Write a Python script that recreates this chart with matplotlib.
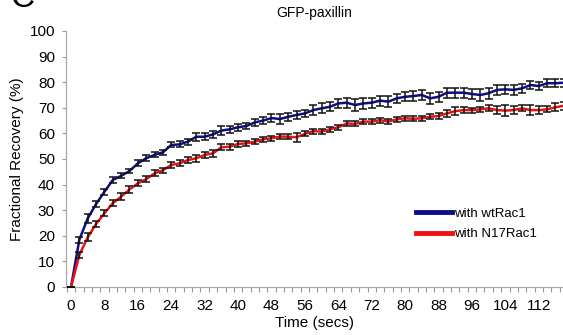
import numpy as np
import matplotlib
matplotlib.use('Agg')
import matplotlib.pyplot as plt

plt.rcParams['font.family'] = ['Liberation Sans', 'DejaVu Sans']

# time points (secs), one every 2 s
time = np.arange(0, 120, 2)

wt_rac1 = [0, 18.5, 26.8, 32.4, 37.2, 41.8, 43.4, 45.3, 48.3, 50.3,
           51.6, 52.6, 55.5, 55.7, 56.8, 58.7, 58.7, 59.6, 61.1, 61.6,
           62.4, 62.9, 64.3, 65.0, 66.0, 65.6, 66.5, 67.2, 67.8, 69.1,
           69.8, 70.4, 71.7, 72.0, 71.1, 71.7, 72.0, 72.8, 72.4, 73.7,
           74.3, 74.6, 75.0, 73.7, 74.3, 75.9, 75.9, 75.9, 75.4, 75.0,
           75.7, 77.0, 77.2, 77.0, 77.6, 78.9, 78.5, 79.6, 79.6, 79.8]
wt_err = [0, 1.2, 1.8, 1.2, 1.2, 1.3, 1.0, 0.8, 1.2, 1.2,
          1.0, 1.0, 1.0, 1.2, 1.2, 1.5, 1.3, 1.3, 1.8, 1.3,
          1.3, 1.3, 1.5, 1.5, 1.5, 1.8, 1.5, 1.5, 1.5, 2.0,
          2.0, 1.8, 1.8, 2.0, 2.2, 2.2, 2.0, 2.0, 2.2, 1.8,
          1.8, 1.8, 2.0, 2.2, 2.0, 2.0, 2.0, 2.0, 2.0, 2.2,
          2.2, 2.0, 1.8, 2.0, 1.8, 1.5, 1.5, 1.5, 1.5, 1.5]

n17_rac1 = [0, 12.5, 19.4, 24.6, 28.8, 32.7, 35.3, 38.1, 40.5, 42.1,
            44.4, 45.6, 47.7, 48.3, 49.6, 50.3, 51.6, 52.2, 54.6, 54.8,
            55.9, 56.1, 56.8, 57.7, 58.1, 58.8, 58.7, 58.5, 59.8, 60.9,
            60.7, 61.6, 62.4, 63.9, 63.7, 64.6, 64.6, 65.2, 64.6, 65.5,
            65.9, 65.7, 65.9, 66.5, 66.8, 67.8, 68.7, 69.1, 69.1, 69.4,
            69.8, 69.1, 68.9, 69.1, 69.8, 69.1, 69.1, 69.4, 70.2, 70.8]
n17_err = [0, 1.2, 1.5, 1.2, 1.2, 1.2, 1.3, 1.3, 1.2, 1.2,
           1.2, 1.0, 1.2, 1.2, 1.2, 1.3, 1.3, 1.5, 1.2, 1.2,
           1.2, 1.0, 1.0, 1.0, 1.0, 1.0, 1.0, 1.8, 1.0, 1.0,
           1.0, 1.0, 1.0, 1.0, 1.0, 1.0, 1.0, 1.0, 1.0, 1.0,
           1.0, 1.0, 1.0, 1.0, 1.2, 1.2, 1.5, 1.2, 1.0, 1.0,
           1.2, 1.5, 2.0, 1.5, 1.2, 1.8, 1.5, 1.2, 1.5, 1.5]

x_labels = np.arange(0, 113, 8)
y_ticks = np.arange(0, 101, 10)

fig = plt.figure(figsize=(5.63, 3.35), dpi=100)
ax = fig.add_axes([66 / 563, 48 / 335, 497 / 563, 256 / 335])

ax.plot(time, wt_rac1, color='#0c0c8c', lw=1.8, label='with wtRac1', zorder=2)
ax.plot(time, n17_rac1, color='#ee1111', lw=1.8, label='with N17Rac1', zorder=2)
ax.errorbar(time, wt_rac1, yerr=wt_err, fmt='none', ecolor='#111111',
            elinewidth=1.1, capsize=3, capthick=1.1, zorder=3)
ax.errorbar(time, n17_rac1, yerr=n17_err, fmt='none', ecolor='#111111',
            elinewidth=1.1, capsize=3, capthick=1.1, zorder=3)

ax.set_xlim(-1.2, 117.8)
ax.set_ylim(0, 100)
ax.set_yticks(y_ticks)
ax.set_xticks(x_labels)
ax.set_xticks(np.arange(-1, 118, 2), minor=True)
ax.tick_params(axis='x', which='major', length=0, pad=9, labelsize=11)
ax.tick_params(axis='x', which='minor', length=3.5, color='#9a9a9a', width=0.8)
ax.tick_params(axis='y', length=3, color='#9a9a9a', width=0.8, pad=5, labelsize=11)

for side in ['top', 'right']:
    ax.spines[side].set_visible(False)
for side in ['left', 'bottom']:
    ax.spines[side].set_color('#a8a8a8')
    ax.spines[side].set_linewidth(0.9)

ax.set_title('GFP-paxillin', fontsize=10, pad=10)
ax.set_xlabel('Time (secs)', fontsize=11, labelpad=2)
ax.set_ylabel('Fractional Recovery (%)', fontsize=11, labelpad=4)

leg = ax.legend(loc='upper left', bbox_to_anchor=(0.69, 0.335), frameon=False,
                fontsize=9.5, handlelength=2.8, handletextpad=0.15,
                labelspacing=0.6, borderpad=0)
for line in leg.get_lines():
    line.set_linewidth(3.5)

fig.text(0.018, 1 - 7 / 335, 'C', fontsize=24, va='baseline')

fig.savefig('out.png', dpi=100)
